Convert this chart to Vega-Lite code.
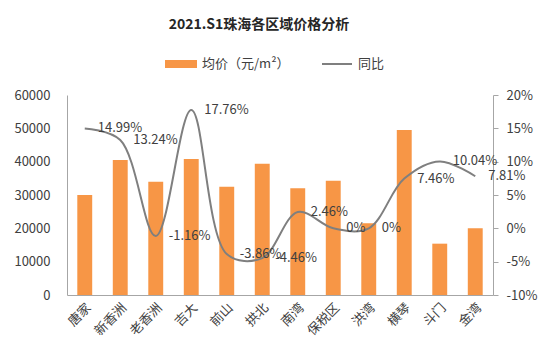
{
  "$schema": "https://vega.github.io/schema/vega-lite/v6.json",
  "width": 426,
  "height": 200,
  "autosize": {"type": "none"},
  "padding": {"left": 67, "top": 95, "right": 60, "bottom": 66},
  "background": "white",
  "config": {"view": {"stroke": null}, "font": "Noto Sans CJK SC"},
  "title": {"text": "2021.S1珠海各区域价格分析", "frame": "group", "anchor": "middle", "dx": -21, "offset": 2, "baseline": "bottom", "fontSize": 14, "font": "Noto Sans CJK SC", "fontWeight": "bold", "color": "#262626"},
  "data": {"values": [
    {"区域": "唐家", "均价": 30000, "同比": 14.99},
    {"区域": "新香洲", "均价": 40500, "同比": 13.24},
    {"区域": "老香洲", "均价": 34000, "同比": -1.16},
    {"区域": "吉大", "均价": 40800, "同比": 17.76},
    {"区域": "前山", "均价": 32500, "同比": -3.86},
    {"区域": "拱北", "均价": 39400, "同比": -4.46},
    {"区域": "南湾", "均价": 32000, "同比": 2.46},
    {"区域": "保税区", "均价": 34300, "同比": 0},
    {"区域": "洪湾", "均价": 21500, "同比": 0},
    {"区域": "横琴", "均价": 49500, "同比": 7.46},
    {"区域": "斗门", "均价": 15400, "同比": 10.04},
    {"区域": "金湾", "均价": 20000, "同比": 7.81}
  ]},
  "encoding": {
    "x": {"field": "区域", "type": "nominal", "sort": null,
      "scale": {"paddingInner": 0.58, "paddingOuter": 0.29},
      "axis": {"title": null, "labelAngle": -45, "ticks": false, "domainColor": "#A6A6A6", "labelFontSize": 13, "labelColor": "#404040", "labelPadding": 6}}
  },
  "layer": [
    {
      "mark": {"type": "bar"},
      "encoding": {
        "y": {"field": "均价", "type": "quantitative", "scale": {"domain": [0, 60000]},
          "axis": {"title": null, "values": [0, 10000, 20000, 30000, 40000, 50000, 60000], "format": "d", "ticks": false, "grid": false, "domainColor": "#A6A6A6", "labelPadding": 17, "labelFontSize": 13, "labelColor": "#404040"}},
        "color": {"datum": "均价（元/m²）", "type": "nominal",
          "scale": {"domain": ["均价（元/m²）", "同比"], "range": ["#F79646", "#7F7F7F"]},
          "legend": {"title": null, "orient": "none", "legendX": 98, "legendY": -47, "direction": "horizontal", "symbolSize": 900, "labelFontSize": 13, "labelColor": "#404040", "columnPadding": 28, "labelOffset": 5,
            "encode": {"symbols": {"update": {
              "shape": {"signal": "datum.value === '同比' ? 'stroke' : 'M-1,-0.2H1V0.2H-1Z'"},
              "fill": {"signal": "datum.value === '同比' ? 'transparent' : '#F79646'"},
              "stroke": {"signal": "datum.value === '同比' ? '#7F7F7F' : 'transparent'"},
              "strokeWidth": {"value": 2}}}}}}
      }
    },
    {
      "encoding": {
        "y": {"field": "同比", "type": "quantitative", "scale": {"domain": [-10, 20]},
          "axis": {"title": null, "orient": "right", "values": [-10, -5, 0, 5, 10, 15, 20], "labelExpr": "datum.value + '%'", "ticks": true, "tickSize": 5, "tickColor": "#A6A6A6", "domainColor": "#A6A6A6", "grid": false, "labelPadding": 8, "labelFontSize": 13, "labelColor": "#404040"}}
      },
      "layer": [
        {
          "mark": {"type": "line", "interpolate": "catmull-rom", "strokeWidth": 2},
          "encoding": {
            "color": {"datum": "同比", "type": "nominal", "scale": {"domain": ["均价（元/m²）", "同比"], "range": ["#F79646", "#7F7F7F"]}}
          }
        },
        {
          "mark": {"type": "text", "align": "left", "baseline": "middle", "dx": 13, "fontSize": 13, "color": "#404040", "text": {"expr": "datum['同比'] + '%'"}},
          "encoding": {}
        }
      ]
    }
  ],
  "resolve": {"scale": {"y": "independent"}}
}
